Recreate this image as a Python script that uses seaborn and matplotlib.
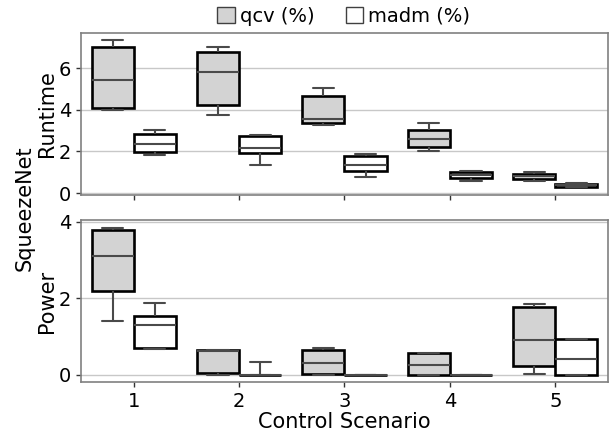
import numpy as np
import pandas as pd
import matplotlib
matplotlib.use("Agg")
import matplotlib.pyplot as plt
import seaborn as sns
from matplotlib.patches import Patch

# ── Data: per scenario [min, q1, median, q3, max] ────────────────────────────
SCENARIOS = ["1", "2", "3", "4", "5"]
METRICS = ["qcv (%)", "madm (%)"]

runtime_qcv = [
    [3.98, 4.10, 5.44, 7.03, 7.35],
    [3.74, 4.25, 5.82, 6.79, 7.00],
    [3.29, 3.36, 3.57, 4.68, 5.03],
    [2.03, 2.22, 2.62, 3.03, 3.38],
    [0.60, 0.70, 0.82, 0.92, 1.03],
]
runtime_madm = [
    [1.82, 1.98, 2.35, 2.86, 3.01],
    [1.35, 1.95, 2.17, 2.73, 2.81],
    [0.76, 1.05, 1.36, 1.78, 1.87],
    [0.60, 0.73, 0.89, 1.03, 1.08],
    [0.28, 0.30, 0.38, 0.44, 0.48],
]
power_qcv = [
    [1.40, 2.18, 3.10, 3.77, 3.84],
    [0.00, 0.04, 0.63, 0.65, 0.66],
    [0.00, 0.02, 0.32, 0.65, 0.71],
    [0.00, 0.00, 0.25, 0.58, 0.58],
    [0.02, 0.23, 0.91, 1.77, 1.84],
]
power_madm = [
    [0.68, 0.71, 1.31, 1.53, 1.88],
    [0.00, 0.00, 0.00, 0.01, 0.35],
    [0.00, 0.00, 0.00, 0.00, 0.01],
    [0.00, 0.00, 0.00, 0.00, 0.00],
    [0.00, 0.00, 0.42, 0.93, 0.93],
]


def to_long(qcv, madm):
    rows = []
    for name, series in zip(METRICS, [qcv, madm]):
        for sc, vals in zip(SCENARIOS, series):
            for v in vals:
                rows.append({"scenario": sc, "metric": name, "value": v})
    return pd.DataFrame(rows)


df_runtime = to_long(runtime_qcv, runtime_madm)
df_power = to_long(power_qcv, power_madm)

sns.set_style("white")
plt.rcParams["font.family"] = ["DejaVu Sans"]
plt.rcParams["text.color"] = "black"
plt.rcParams["axes.labelcolor"] = "black"

fig, axes = plt.subplots(2, 1, figsize=(6.16, 4.37), dpi=100, sharex=True)
fig.subplots_adjust(left=0.1315, right=0.987, top=0.925, bottom=0.1252,
                    hspace=0.159)

palette = {"qcv (%)": "#d3d3d3", "madm (%)": "white"}
box_kw = dict(
    x="scenario", y="value", hue="metric", order=SCENARIOS,
    hue_order=METRICS, palette=palette, whis=(0, 100), width=0.8,
    linewidth=1.5, linecolor="#4a4a4a", legend=False,
    boxprops={"edgecolor": "black", "linewidth": 1.9},
)

for ax, df, label in zip(axes, [df_runtime, df_power], ["Runtime", "Power"]):
    sns.boxplot(data=df, ax=ax, **box_kw)
    ax.set_ylabel(label, fontsize=15)
    ax.set_xlabel("")
    ax.yaxis.grid(True, color="#c8c8c8", linewidth=1)
    ax.set_axisbelow(True)
    for s in ax.spines.values():
        s.set_color("#808080")
        s.set_linewidth(1.2)
    ax.tick_params(axis="both", labelsize=14, length=3.5, width=1,
                   color="#333333", labelcolor="black",
                   bottom=True, left=True)
    ax.yaxis.set_label_coords(-0.045, 0.5)

axes[0].set_yticks([0, 2, 4, 6])
axes[1].set_yticks([0, 2, 4])
axes[0].tick_params(axis="x", labelbottom=False)
axes[1].set_xlabel("Control Scenario", fontsize=15, labelpad=1)

fig.text(0.04, 0.524, "SqueezeNet", rotation=90, fontsize=15,
         ha="center", va="center")

handles = [Patch(facecolor=palette[m], edgecolor="#404040", label=m)
           for m in METRICS]
fig.legend(handles=handles, loc="upper center", ncol=2, frameon=False,
           bbox_to_anchor=(0.558, 1.025), fontsize=14, handlelength=0.9,
           handleheight=0.9, handletextpad=0.25, columnspacing=1.6)

fig.savefig("out.png", dpi=100)
